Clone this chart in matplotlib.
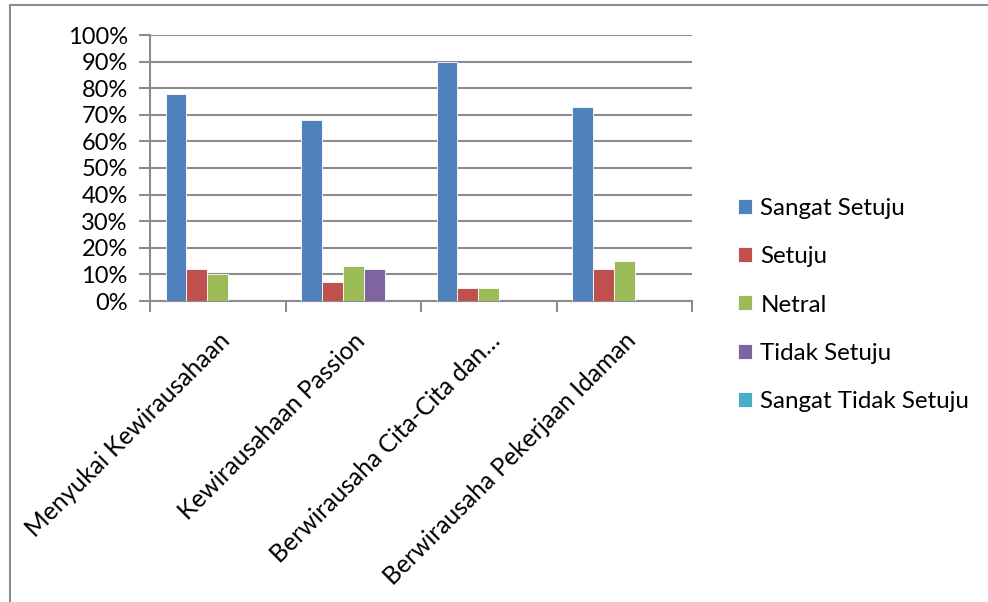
import matplotlib
matplotlib.use("Agg")
import matplotlib.pyplot as plt
import numpy as np
from matplotlib.patches import Rectangle
from matplotlib.ticker import FuncFormatter, MultipleLocator

plt.rcParams["font.family"] = ["Lato", "DejaVu Sans"]

# ── data ──
categories = [
    "Menyukai Kewirausahaan",
    "Kewirausahaan Passion",
    "Berwirausaha Cita-Cita dan…",
    "Berwirausaha Pekerjaan Idaman",
]
series_names = ["Sangat Setuju", "Setuju", "Netral", "Tidak Setuju", "Sangat Tidak Setuju"]
sangat_setuju = [0.78, 0.68, 0.90, 0.73]
setuju = [0.12, 0.07, 0.05, 0.12]
netral = [0.10, 0.13, 0.05, 0.15]
tidak_setuju = [0.0, 0.12, 0.0, 0.0]
sangat_tidak_setuju = [0.0, 0.0, 0.0, 0.0]
colors = ["#4F81BD", "#C0504D", "#9BBB59", "#8064A2", "#4BACC6"]

values = [sangat_setuju, setuju, netral, tidak_setuju, sangat_tidak_setuju]

fig = plt.figure(figsize=(9.88, 6.02), dpi=100)
ax = fig.add_axes([150 / 988, 1 - 301 / 602, 542 / 988, 266 / 602])

# excel-style clustered bars: gap width 150%
n_series = len(values)
bar_w = 1.0 / (n_series + 1.5)
x = np.arange(len(categories))
handles = []
for i, (vals, name, col) in enumerate(zip(values, series_names, colors)):
    offs = (i - (n_series - 1) / 2) * bar_w
    b = ax.bar(x + offs, vals, width=bar_w, color=col, label=name,
               edgecolor="white", linewidth=0.6, zorder=3)
    handles.append(b)

ax.set_xlim(-0.5, len(categories) - 0.5)
ax.set_ylim(0, 1.0)
ax.yaxis.set_major_locator(MultipleLocator(0.1))
ax.yaxis.set_major_formatter(FuncFormatter(lambda v, _: f"{v * 100:.0f}%"))
ax.grid(axis="y", color="#8C8C8C", linewidth=1.5, zorder=0)

# category ticks sit on the boundaries, labels at centres
ax.set_xticks(np.arange(len(categories) + 1) - 0.5)
ax.set_xticklabels([])
ax.set_xticks(x, minor=True)
ax.set_xticklabels(categories, minor=True, rotation=45, ha="right",
                   rotation_mode="anchor", fontsize=17.7)
ax.tick_params(axis="x", which="minor", length=0, pad=20)
ax.tick_params(axis="x", which="major", length=8, width=1.5, color="#8C8C8C")
ax.tick_params(axis="y", length=8, width=1.5, color="#8C8C8C", labelsize=17, pad=8)

for side in ["top", "right"]:
    ax.spines[side].set_visible(False)
for side in ["left", "bottom"]:
    ax.spines[side].set_color("#8C8C8C")
    ax.spines[side].set_linewidth(1.5)

fig.legend(handles=handles, labels=series_names, loc="center left",
           bbox_to_anchor=(738 / 988, 1 - 305 / 602), frameon=False,
           fontsize=17.4, handlelength=0.58, handleheight=0.58,
           handletextpad=0.35, labelspacing=1.12, borderpad=0,
           borderaxespad=0)

# chart frame
fig.patches.append(Rectangle((10 / 988, -0.1), 1.2, 1 - 5 / 602 + 0.1,
                             transform=fig.transFigure, fill=False,
                             edgecolor="#8C8C8C", linewidth=1.5))

fig.savefig("out.png", dpi=100)
